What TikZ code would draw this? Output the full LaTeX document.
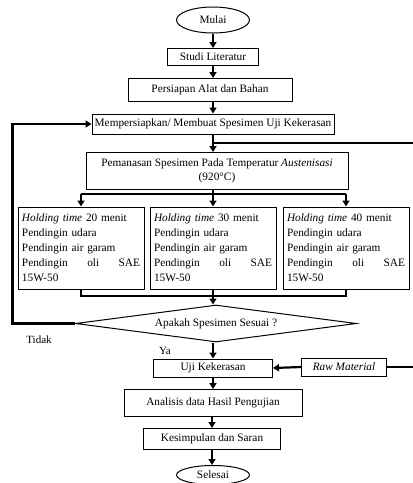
\documentclass[tikz,border=0pt]{standalone}
\usepackage{fontspec}
\setmainfont{Liberation Serif}
\usetikzlibrary{arrows.meta, positioning, shapes.geometric, calc}
\tikzset{
  flowbox/.style={draw, line width=1pt, inner sep=0pt, align=center, font=\fontsize{11.3}{14}\selectfont},
  terminal/.style={ellipse, draw, line width=1pt, inner sep=0pt, font=\fontsize{11.3}{14}\selectfont},
  holdbox/.style={draw, line width=1pt, inner sep=4pt, align=left, font=\fontsize{11.3}{15}\selectfont},
  decision/.style={diamond, draw, line width=1pt, inner sep=0pt, aspect=7.6, font=\fontsize{11.3}{14}\selectfont},
  flowline/.style={line width=2.2pt},
  flowarrow/.style={line width=2.2pt, -{Triangle[length=6pt,width=7pt]}},
  lbl/.style={font=\fontsize{11}{13}\selectfont},
}
\begin{document}
\begin{tikzpicture}[x=1pt, y=-1pt]
    \useasboundingbox (0,0) rectangle (413,483);
    % main column
    \node[terminal, minimum width=73, minimum height=26] (mulai) at (213,20) {Mulai};
    \node[flowbox, minimum width=91, minimum height=17] (studi) at (213,57) {Studi Literatur};
    \node[flowbox, minimum width=164, minimum height=23] (persiapan) at (210,90) {Persiapan Alat dan Bahan};
    \node[flowbox, minimum width=242, minimum height=20] (spesimen) at (213,124) {Mempersiapkan/ Membuat Spesimen Uji Kekerasan};
    \node[flowbox, minimum width=262, minimum height=37] (panas) at (217,171) {Pemanasan Spesimen Pada Temperatur \textit{Austenisasi}\\(920\textdegree C)};
    \foreach \t/\x [count=\i] in {20/81, 30/213, 40/346} {
      \node[holdbox, text width=118, minimum height=82] (hold\i) at (\x,248)
        {\textit{Holding time} \t{} menit\\Pendingin udara\\Pendingin air garam\\Pendingin \hfill oli \hfill SAE\\15W-50};
    }
    \node[decision, minimum width=281, minimum height=37] (cek) at (216,323.5) {Apakah Spesimen Sesuai ?};
    \node[flowbox, minimum width=119, minimum height=18] (uji) at (213,368) {Uji Kekerasan};
    \node[flowbox, minimum width=85, minimum height=18] (raw) at (344,367) {\textit{Raw Material}};
    \node[flowbox, minimum width=178, minimum height=27] (analisis) at (213,403) {Analisis data Hasil Pengujian};
    \node[flowbox, minimum width=137, minimum height=21] (simpulan) at (212,439) {Kesimpulan dan Saran};
    \node[terminal, minimum width=73, minimum height=19] (selesai) at (213,475) {Selesai};
    \node[lbl] (tidak) at (39,340) {Tidak};
    \node[lbl] (ya) at (165,351) {Ya};

    % connectors
    \draw[flowarrow] (mulai) -- (studi);
    \draw[flowarrow] (studi) -- (persiapan.north -| studi);
    \draw[flowarrow] (persiapan.south -| spesimen) -- (spesimen);
    \draw[flowarrow] (spesimen.south) -- (spesimen.south |- panas.north);
    \coordinate (tengah1) at ($(spesimen.south)!0.5!(spesimen.south |- panas.north)$);
    \coordinate (kanan1) at (413,142);
    \draw[flowline] (tengah1) -- (tengah1 -| kanan1);
    \coordinate (cabang) at (213,194);
    \draw[flowline] (cabang |- panas.south) -- (cabang);
    \draw[flowline] (hold1.north |- cabang) -- (hold3.north |- cabang);
    \foreach \i in {1,2,3}
      \draw[flowarrow] (hold\i.north |- cabang) -- (hold\i.north);
    \coordinate (gabung) at (213,296);
    \draw[flowline] (hold1.south) -- (hold1.south |- gabung) -- (hold3.south |- gabung) -- (hold3.south);
    \draw[flowarrow] (hold2.south) -- (hold2.south |- cek.north);
    \coordinate (kiri) at (12.5,323.5);
    \draw[flowarrow] (cek.west) -- (kiri) |- (spesimen.west);
    \draw[flowarrow] (uji.north |- cek.south) -- (uji.north);
    \draw[flowarrow] (raw.west) -- (uji.east);
    \coordinate (kanan2) at (413,367);
    \draw[flowline] (raw.east) -- (kanan2);
    \draw[flowarrow] (uji) -- (analisis);
    \draw[flowarrow] (analisis.south -| simpulan) -- (simpulan);
    \draw[flowarrow] (simpulan) -- (selesai.north -| simpulan);
  \end{tikzpicture}
\end{document}
